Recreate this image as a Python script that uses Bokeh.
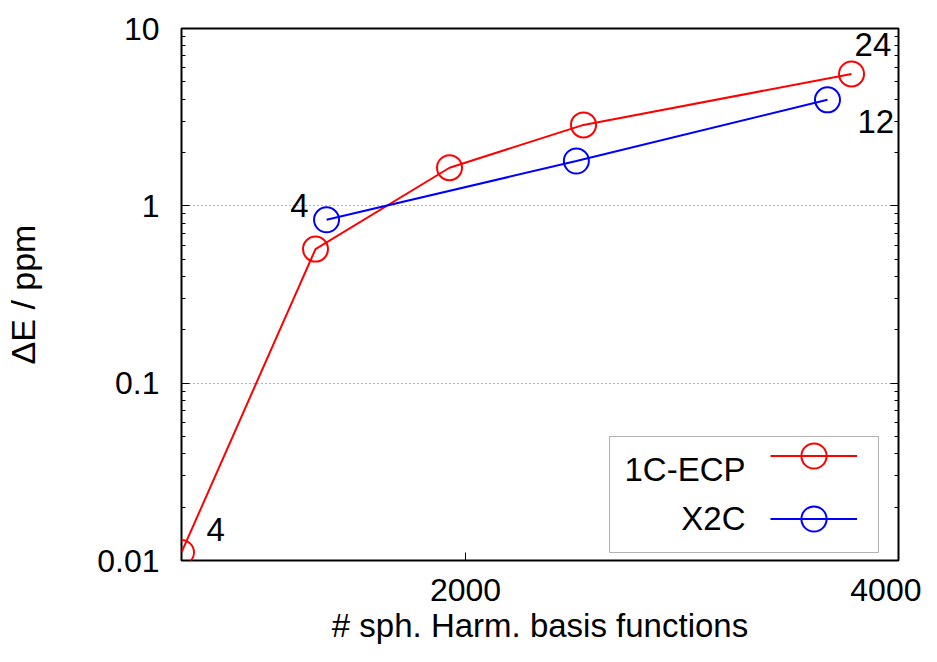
from bokeh.plotting import figure
from bokeh.models import (FixedTicker, LogAxis, Legend, LegendItem, Label, BoxAnnotation,
                          CustomJSTickFormatter)
from bokeh.core.properties import value
from bokeh.embed import file_html
from bokeh.resources import INLINE

# ---- data ----
ecp_x = [688, 1307, 1926, 2545, 3783]
ecp_y = [0.0111, 0.570, 1.64, 2.86, 5.54]
x2c_x = [1358, 2512, 3672]
x2c_y = [0.834, 1.79, 3.96]
series_names = ["1C-ECP", "X2C"]
ytick_values = [0.01, 0.1, 1, 10]
ytick_labels = ["0.01", "0.1", "1", "10"]
xtick_values = [2000, 4000]
x_range = (688, 4000)
y_range = (0.01, 10)
# point annotations: (series, index, text)
ann_series = ["ecp", "x2c", "ecp", "x2c"]
ann_index = [0, 0, 4, 2]
ann_text = ["4", "4", "24", "12"]

FONT = "Liberation Sans"
FS_TICK = "32px"
FS_LAB = "33px"

p = figure(width=921, height=646, y_axis_type="log",
           x_range=x_range, y_range=y_range,
           output_backend="svg", toolbar_location=None,
           min_border_left=181, min_border_right=23, min_border_top=28, min_border_bottom=86)
p.background_fill_color = "white"
p.border_fill_color = "white"
p.outline_line_color = "black"
p.outline_line_width = 2

# grids
p.xgrid.grid_line_color = None
p.ygrid.grid_line_color = "#666666"
p.ygrid.grid_line_dash = "1 3"
p.ygrid.grid_line_width = 1

minor = [m * 10.0 ** e for e in (-2, -1, 0) for m in range(2, 10)]
yfmt = CustomJSTickFormatter(args=dict(v=ytick_values, l=ytick_labels), code="""
for (let i = 0; i < v.length; i++) { if (Math.abs(tick - v[i]) < 1e-9 * v[i]) return l[i]; }
return '';
""")

ax = p.yaxis[0]
ax.ticker = FixedTicker(ticks=ytick_values, minor_ticks=minor)
ax.formatter = yfmt
ax.axis_label = "ΔE / ppm"
ax.axis_label_text_font = FONT
ax.axis_label_text_font_size = "34px"
ax.axis_label_text_font_style = "normal"
ax.axis_label_text_color = "black"
ax.axis_label_standoff = 52
ax.major_label_text_font = FONT
ax.major_label_text_font_size = FS_TICK
ax.major_label_text_color = "black"
ax.major_label_standoff = 22
ax.axis_line_color = None
ax.major_tick_in = 8
ax.major_tick_out = 0
ax.minor_tick_in = 4
ax.minor_tick_out = 0

rax = LogAxis(ticker=FixedTicker(ticks=ytick_values, minor_ticks=minor),
              formatter=CustomJSTickFormatter(code="return '';"))
rax.axis_line_color = None
rax.major_tick_in = 8
rax.major_tick_out = 0
rax.minor_tick_in = 4
rax.minor_tick_out = 0
p.add_layout(rax, "right")

bx = p.xaxis[0]
bx.ticker = FixedTicker(ticks=xtick_values)
bx.axis_label = "# sph. Harm. basis functions"
bx.axis_label_text_font = FONT
bx.axis_label_text_font_size = FS_LAB
bx.axis_label_text_font_style = "normal"
bx.axis_label_text_color = "black"
bx.axis_label_standoff = 3
bx.major_label_text_font = FONT
bx.major_label_text_font_size = FS_TICK
bx.major_label_text_color = "black"
bx.major_label_standoff = 18
bx.axis_line_color = None
bx.major_tick_in = 8
bx.major_tick_out = 0
bx.minor_tick_line_color = None

# series
l1 = p.line(ecp_x, ecp_y, line_color="#ff0000", line_width=2)
s1 = p.scatter(ecp_x, ecp_y, marker="circle", size=25, fill_color=None,
               line_color="#ff0000", line_width=2)
l2 = p.line(x2c_x, x2c_y, line_color="#0000ff", line_width=2)
s2 = p.scatter(x2c_x, x2c_y, marker="circle", size=25, fill_color=None,
               line_color="#0000ff", line_width=2)

# point annotations
data = {"ecp": (ecp_x, ecp_y), "x2c": (x2c_x, x2c_y)}
offsets = [(25, -23, "left"), (-18, -14, "right"), (3, -29, "left"), (30, 22, "left")]
for s, i, t, (dx, dy, al) in zip(ann_series, ann_index, ann_text, offsets):
    xs, ys = data[s]
    p.text([xs[i]], [ys[i]], text=[t], x_offset=dx, y_offset=dy,
           text_align=al, text_baseline="alphabetic",
           text_font=value(FONT), text_font_size=FS_LAB, text_color="black")

# legend box and texts
box = BoxAnnotation(left=428, right=697, top=124, bottom=8,
                    left_units="screen", right_units="screen",
                    top_units="screen", bottom_units="screen",
                    fill_color="white", fill_alpha=1.0, line_color="black", line_width=1)
p.add_layout(box)
for name, ty in zip(series_names, [91, 42]):
    p.add_layout(Label(x=564, y=ty, x_units="screen", y_units="screen", text=name,
                       text_align="right", text_baseline="middle",
                       text_font=FONT, text_font_size=FS_LAB, text_color="black"))
leg = Legend(items=[LegendItem(label=" ", renderers=[l1, s1]),
                    LegendItem(label=" ", renderers=[l2, s2])],
             location=(589, 10), glyph_width=87, glyph_height=63,
             label_width=0, label_standoff=0, padding=0, margin=0, spacing=-14,
             border_line_color=None, background_fill_alpha=0,
             label_text_font_size="1px")
p.add_layout(leg, "center")

open("out.html", "w").write(file_html(p, INLINE))
